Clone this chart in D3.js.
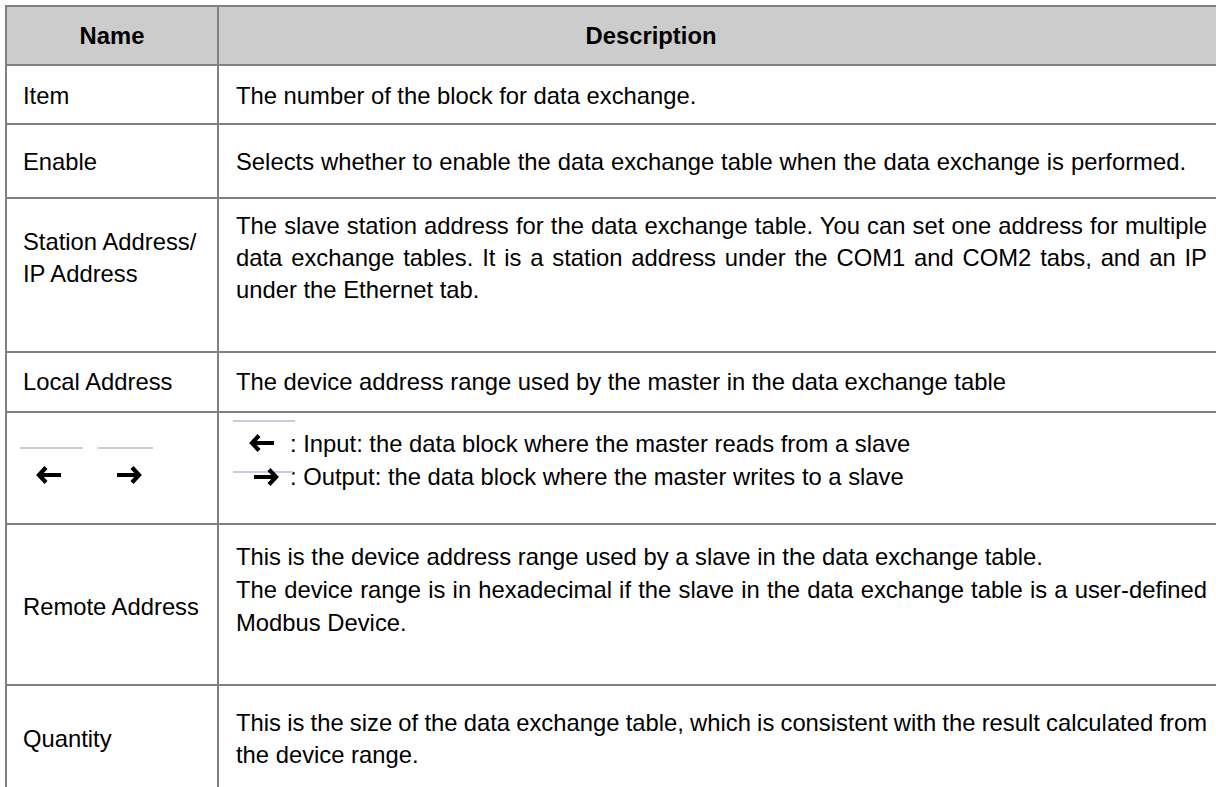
<!DOCTYPE html>
<html><head><meta charset="utf-8">
<script src="https://cdn.jsdelivr.net/npm/d3@7"></script>
<style>
html,body{margin:0;padding:0;background:#fff;overflow:hidden}
text{font-family:"Liberation Sans",Arial,sans-serif;font-size:23.8px;fill:#000}
</style></head>
<body>
<svg id="c" width="1216" height="787"></svg>
<script>
// ---- data ----
const headers = ["Name", "Description"];
const names = [
  ["Item"],
  ["Enable"],
  ["Station Address/", "IP Address"],
  ["Local Address"],
  [],
  ["Remote Address"],
  ["Quantity"]
];
const descriptions = [
  ["The number of the block for data exchange."],
  ["Selects whether to enable the data exchange table when the data exchange is performed."],
  ["The slave station address for the data exchange table. You can set one address for multiple",
   "data exchange tables. It is a station address under the COM1 and COM2 tabs, and an IP",
   "under the Ethernet tab."],
  ["The device address range used by the master in the data exchange table"],
  [": Input: the data block where the master reads from a slave",
   ": Output: the data block where the master writes to a slave"],
  ["This is the device address range used by a slave in the data exchange table.",
   "The device range is in hexadecimal if the slave in the data exchange table is a user-defined",
   "Modbus Device."],
  ["This is the size of the data exchange table, which is consistent with the result calculated from",
   "the device range."]
];
const arrowRow = 4;

// ---- layout ----
const rowEdges = [6, 65, 124, 198, 352, 412, 524, 685, 820];
const colX = [6, 218, 1240];
const nameCenterY = [95, 161, 257, 381, 475, 606, 738];
const descLineY = [[95],[161],[225,257,289],[381],[443,476],[556,589,622],[722,754]];
const justified = [[1,0,1186],[2,0,1207],[2,1,1207],[5,1,1207],[6,0,1207]];

const svg = d3.select("#c");
// header background
svg.append("rect").attr("x", colX[0]).attr("y", rowEdges[0])
  .attr("width", colX[2]-colX[0]).attr("height", rowEdges[1]-rowEdges[0]).attr("fill", "#cccccc");

// header text
svg.append("text").attr("x", (colX[0]+colX[1])/2).attr("y", 35).attr("text-anchor","middle")
  .attr("dominant-baseline","central").attr("font-weight","bold").text(headers[0]);
svg.append("text").attr("x", 651).attr("y", 35).attr("text-anchor","middle")
  .attr("dominant-baseline","central").attr("font-weight","bold").text(headers[1]);

// grid lines
const gridColor = "#808080";
svg.selectAll("line.h").data(rowEdges).enter().append("line")
  .attr("x1", colX[0]).attr("x2", colX[2]).attr("y1", d=>d).attr("y2", d=>d)
  .attr("stroke", gridColor).attr("stroke-width", 2);
svg.selectAll("line.v").data(colX.slice(0,2)).enter().append("line")
  .attr("x1", d=>d).attr("x2", d=>d).attr("y1", rowEdges[0]-1).attr("y2", 800)
  .attr("stroke", gridColor).attr("stroke-width", 2);

// names
names.forEach((ls, i) => {
  const n = ls.length;
  ls.forEach((t, j) => {
    svg.append("text").attr("x", 23)
      .attr("y", nameCenterY[i] + (j - (n-1)/2) * 32)
      .attr("dominant-baseline","central").text(t);
  });
});

// arrow glyph
function arrow(g, cx, cy, dir) {
  const w = 24, h = 6;
  const a = g.append("g").attr("transform", `translate(${cx},${cy}) scale(${dir},1)`);
  a.append("path").attr("d", `M${-w/2+1},0 L${w/2-1},0`).attr("stroke","#000").attr("stroke-width",4).attr("fill","none");
  a.append("path").attr("d", `M${w/2-8},${-h-1.5} L${w/2-1},0 L${w/2-8},${h+1.5}`).attr("stroke","#000")
    .attr("stroke-width",4.2).attr("fill","none").attr("stroke-linejoin","miter");
}
function faintLine(x1, x2, y) {
  svg.append("line").attr("x1", x1).attr("x2", x2).attr("y1", y).attr("y2", y)
    .attr("stroke", "#c8ccdc").attr("stroke-width", 2);
}

// descriptions
descriptions.forEach((ls, i) => {
  ls.forEach((t, j) => {
    let x = 236;
    if (i === arrowRow) x = 290;
    const el = svg.append("text").attr("x", x).attr("y", descLineY[i][j])
      .attr("dominant-baseline","central").text(t);
    const jf = justified.find(d => d[0] === i && d[1] === j);
    if (jf) {
      const w = el.node().getComputedTextLength();
      const spaces = (t.match(/ /g) || []).length;
      if (spaces > 0) el.attr("word-spacing", ((jf[2] - x) - w) / spaces);
    }
  });
});

// arrows in name column
faintLine(20, 83, 448); faintLine(98, 153, 448);
arrow(svg, 50, 475, -1);
arrow(svg, 128, 475, 1);
// arrows in description column
faintLine(233, 295, 421);
arrow(svg, 263, 443, -1);
faintLine(233, 293, 472);
arrow(svg, 265, 477, 1);
</script>
</body></html>
